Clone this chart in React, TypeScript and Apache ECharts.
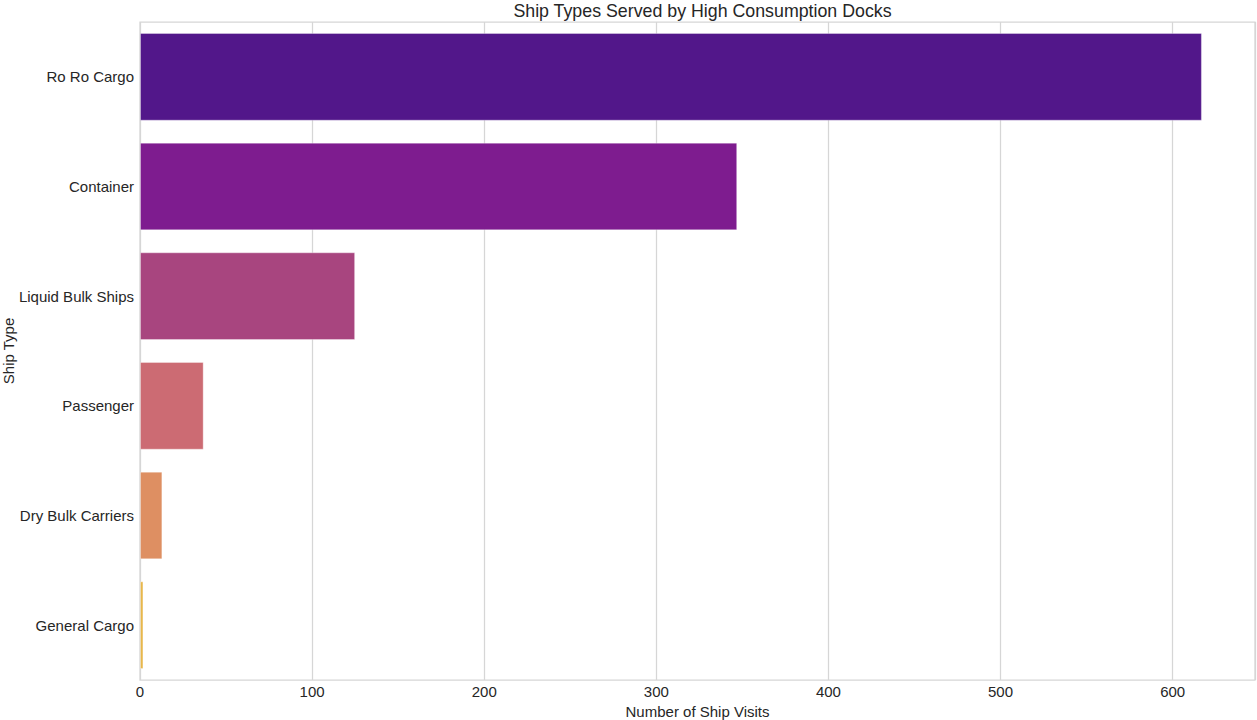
import React, { useEffect, useRef } from "react";
import * as echarts from "echarts";

const categories = [
  "Ro Ro Cargo",
  "Container",
  "Liquid Bulk Ships",
  "Passenger",
  "Dry Bulk Carriers",
  "General Cargo",
];
const visits = [617, 347, 125, 37, 13, 2];
const barColors = ["#52178a", "#7e1c8f", "#a8457f", "#cc6b73", "#de8f62", "#e8b74b"];
const xTicks = [0, 100, 200, 300, 400, 500, 600];

const FONT = "'Liberation Sans', Arial, sans-serif";
const TEXT = "#262626";
const GRIDC = "#d6d6d6";

export default function App() {
  const ref = useRef<HTMLDivElement>(null);
  useEffect(() => {
    document.body.style.margin = "0";
    const chart = echarts.init(ref.current!, null, { renderer: "svg" });
    const xMax = Math.max(...visits) * 1.05;
    chart.setOption({
      animation: false,
      backgroundColor: "#ffffff",
      textStyle: { fontFamily: FONT },
      title: {
        text: "Ship Types Served by High Consumption Docks",
        left: 697.5,
        top: -3,
        textAlign: "center",
        textStyle: { fontFamily: FONT, fontSize: 17.8, fontWeight: "normal", color: TEXT },
      },
      grid: {
        left: 140,
        right: 2,
        top: 22,
        bottom: 40,
        show: true,
        borderColor: GRIDC,
        borderWidth: 1.25,
        containLabel: false,
        outerBoundsMode: "none",
      },
      xAxis: {
        type: "value",
        min: 0,
        max: xMax,
        interval: 100,
        name: "Number of Ship Visits",
        nameLocation: "middle",
        nameGap: 24,
        nameMoveOverlap: false,
        nameTextStyle: { fontFamily: FONT, fontSize: 15, color: TEXT },
        axisLine: { show: false },
        axisTick: { show: false },
        axisLabel: {
          fontFamily: FONT,
          fontSize: 15,
          color: TEXT,
          margin: 4,
          showMaxLabel: false,
          formatter: (v: number) => (xTicks.includes(v) ? String(v) : ""),
        },
        splitLine: { show: true, lineStyle: { color: GRIDC, width: 1.25 } },
      },
      yAxis: {
        type: "category",
        data: categories,
        inverse: true,
        name: "Ship Type",
        nameLocation: "middle",
        nameGap: 124,
        nameMoveOverlap: false,
        nameTextStyle: { fontFamily: FONT, fontSize: 15, color: TEXT },
        axisLine: { show: false },
        axisTick: { show: false },
        axisLabel: { fontFamily: FONT, fontSize: 15, color: TEXT, margin: 6 },
        splitLine: { show: false },
      },
      series: [
        {
          type: "bar",
          data: visits.map((v, i) => ({
            value: v,
            itemStyle: { color: barColors[i], borderColor: "rgba(255,255,255,0.35)", borderWidth: 1 },
          })),
          barCategoryGap: "20%",
        },
      ],
    });
    return () => chart.dispose();
  }, []);
  return <div ref={ref} style={{ width: 1257, height: 720 }} />;
}
